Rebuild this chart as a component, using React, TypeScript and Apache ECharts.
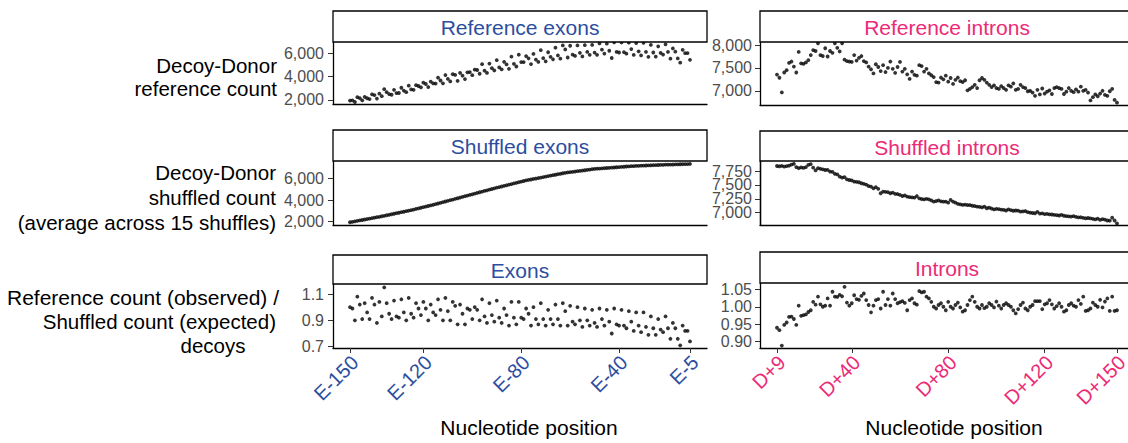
import React, { useEffect, useRef } from "react";
import * as echarts from "echarts";

const range = (a: number, b: number): number[] => {
  const r: number[] = [];
  for (let v = a; v <= b; v++) r.push(v);
  return r;
};

// Categories (positions present in the data)
const exonPositions: number[] = [...range(-150, -12), -5];
const intronPositions: number[] = range(9, 150);
const exonCategories = exonPositions.map((p) => `E${p}`);
const intronCategories = intronPositions.map((p) => `D+${p}`);
const exonTickLabels = ["E-150", "E-120", "E-80", "E-40", "E-5"];
const intronTickLabels = ["D+9", "D+40", "D+80", "D+120", "D+150"];

// Y tick values
const refExonTicks = [2000, 4000, 6000];
const shufExonTicks = [2000, 4000, 6000];
const ratioExonTicks = [0.7, 0.9, 1.1];
const refIntronTicks = [7000, 7500, 8000];
const shufIntronTicks = [7000, 7250, 7500, 7750];
const ratioIntronTicks = [0.9, 0.95, 1.0, 1.05];

// Series values
const refExons = [
  1950, 1970, 1830, 2240, 2160, 1970, 2270, 2150, 2080, 2490,
  2420, 2120, 2550, 2330, 2930, 2670, 2510, 2450, 2870, 2590,
  2600, 3050, 2810, 2670, 3230, 2910, 2870, 3270, 3200, 3090,
  3480, 3370, 3110, 3580, 3430, 3410, 3910, 3670, 3430, 4140,
  3810, 3590, 4210, 4150, 3630, 4320, 4080, 3790, 4370, 4390,
  4130, 4600, 4570, 4250, 5070, 4510, 4320, 5120, 4730, 4530,
  5410, 4790, 4630, 5270, 5050, 4670, 5710, 5100, 4870, 5880,
  5250, 5250, 5760, 5570, 5080, 5950, 5460, 5260, 6270, 5580,
  5310, 6090, 5700, 5490, 6480, 5820, 5540, 6680, 6330, 5640,
  6650, 5890, 5780, 6680, 6040, 5730, 6700, 6120, 5870, 6720,
  6060, 5870, 6850, 6310, 5980, 6830, 6220, 5600, 6950, 6120,
  6070, 6930, 6100, 5970, 6910, 6360, 5860, 6880, 6170, 5820,
  6900, 6120, 5700, 6720, 6070, 5720, 6600, 6030, 5890, 6770,
  6120, 5540, 6420, 6140, 5560, 5200, 6300, 6010, 6020, 5440,
];

const shufExons = [
  1950, 1990, 2030, 2078, 2118, 2158, 2204, 2246, 2284, 2330,
  2368, 2414, 2452, 2503, 2546, 2597, 2640, 2691, 2734, 2786,
  2828, 2879, 2922, 2973, 3016, 3067, 3119, 3179, 3231, 3291,
  3343, 3403, 3455, 3515, 3567, 3627, 3684, 3749, 3806, 3871,
  3928, 3993, 4050, 4115, 4172, 4237, 4294, 4359, 4416, 4481,
  4538, 4603, 4660, 4725, 4782, 4847, 4904, 4969, 5026, 5091,
  5148, 5208, 5260, 5320, 5372, 5432, 5484, 5544, 5596, 5656,
  5708, 5768, 5820, 5868, 5908, 5956, 5996, 6044, 6084, 6132,
  6172, 6220, 6260, 6308, 6348, 6396, 6436, 6484, 6524, 6558,
  6584, 6618, 6644, 6678, 6704, 6738, 6764, 6798, 6824, 6858,
  6884, 6905, 6918, 6939, 6952, 6973, 6986, 7007, 7020, 7041,
  7054, 7075, 7088, 7109, 7122, 7143, 7149, 7163, 7169, 7183,
  7189, 7203, 7209, 7223, 7229, 7243, 7249, 7263, 7266, 7277,
  7280, 7291, 7294, 7305, 7308, 7319, 7322, 7333, 7336, 7345,
];

const ratioExons = [
  1.00, 0.99, 0.90, 1.08, 1.02, 0.91, 1.03, 0.96, 0.91, 1.07,
  1.02, 0.88, 1.04, 0.93, 1.15, 1.03, 0.95, 0.91, 1.05, 0.93,
  0.92, 1.06, 0.96, 0.90, 1.07, 0.95, 0.92, 1.03, 0.99, 0.94,
  1.04, 0.99, 0.90, 1.02, 0.96, 0.94, 1.06, 0.98, 0.90, 1.07,
  0.97, 0.90, 1.04, 1.01, 0.87, 1.02, 0.95, 0.87, 0.99, 0.98,
  0.91, 1.00, 0.98, 0.90, 1.06, 0.93, 0.88, 1.03, 0.94, 0.89,
  1.05, 0.92, 0.88, 0.99, 0.94, 0.86, 1.04, 0.92, 0.87, 1.04,
  0.92, 0.91, 0.99, 0.95, 0.86, 1.00, 0.91, 0.87, 1.03, 0.91,
  0.86, 0.98, 0.91, 0.87, 1.02, 0.91, 0.86, 1.03, 0.97, 0.86,
  1.01, 0.89, 0.87, 1.00, 0.90, 0.85, 0.99, 0.90, 0.86, 0.98,
  0.88, 0.85, 0.99, 0.91, 0.86, 0.98, 0.89, 0.80, 0.99, 0.87,
  0.86, 0.98, 0.86, 0.84, 0.97, 0.89, 0.82, 0.96, 0.86, 0.81,
  0.96, 0.85, 0.79, 0.93, 0.84, 0.79, 0.91, 0.83, 0.81, 0.93,
  0.84, 0.76, 0.88, 0.84, 0.76, 0.71, 0.86, 0.82, 0.82, 0.74,
];

const refIntrons = [
  7355, 7285, 6965, 7400, 7450, 7610, 7640, 7530, 7400, 7850,
  7600, 7590, 7620, 7670, 7780, 7890, 7870, 8040, 7780, 7760,
  7930, 7750, 7870, 7830, 8040, 7940, 7860, 8040, 7680, 7650,
  7640, 7630, 7780, 7660, 7720, 7760, 7650, 7620, 7530, 7470,
  7380, 7580, 7520, 7430, 7560, 7410, 7500, 7640, 7480, 7390,
  7520, 7630, 7420, 7480, 7360, 7260, 7420, 7350, 7330, 7560,
  7540, 7420, 7480, 7380, 7340, 7300, 7190, 7180, 7290, 7250,
  7330, 7200, 7280, 7150, 7240, 7290, 7210, 7190, 7230, 7010,
  7040, 7080, 7130, 7060, 7230, 7280, 7240, 7180, 7130, 7080,
  7120, 7060, 7040, 7100, 7060, 7020, 7120, 7090, 7160, 7020,
  7040, 7130, 7080, 7060, 6990, 7000, 6960, 6890, 7020, 6920,
  7050, 6940, 6980, 7010, 6930, 7060, 7080, 7060, 7040, 6930,
  6980, 7060, 7000, 6970, 7030, 6980, 7090, 7000, 7020, 6960,
  6790, 6860, 6920, 6880, 6940, 7000, 6910, 6890, 6990, 7040,
  6800, 6740,
];

const shufIntrons = [
  7840, 7835, 7842, 7830, 7838, 7845, 7865, 7880, 7820, 7800,
  7815, 7805, 7820, 7860, 7875, 7810, 7760, 7800, 7790, 7780,
  7768, 7770, 7740, 7735, 7700, 7690, 7650, 7630, 7640, 7600,
  7588, 7580, 7560, 7555, 7548, 7530, 7520, 7505, 7480, 7470,
  7438, 7460, 7430, 7350, 7380, 7375, 7370, 7350, 7360, 7340,
  7336, 7320, 7300, 7310, 7290, 7280, 7275, 7270, 7300, 7258,
  7246, 7240, 7250, 7240, 7220, 7200, 7210, 7220, 7205, 7198,
  7198, 7180, 7230, 7200, 7180, 7160, 7150, 7140, 7145, 7138,
  7138, 7125, 7120, 7110, 7105, 7095, 7110, 7080, 7090, 7075,
  7060, 7070, 7065, 7055, 7050, 7040, 7060, 7045, 7035, 7040,
  7036, 7020, 7025, 7030, 7010, 7000, 6995, 6990, 7015, 6985,
  6988, 6975, 6980, 6970, 6968, 6960, 6955, 6950, 6960, 6945,
  6940, 6935, 6930, 6938, 6925, 6915, 6918, 6908, 6900, 6905,
  6898, 6890, 6880, 6895, 6870, 6885, 6875, 6860, 6856, 6910,
  6860, 6808,
];

const ratioIntrons = [
  0.940, 0.933, 0.889, 0.948, 0.955, 0.971, 0.972, 0.965, 0.948, 1.003,
  0.974, 0.976, 0.978, 0.985, 0.990, 1.014, 1.006, 1.029, 1.007, 1.000,
  1.003, 1.024, 1.003, 1.043, 1.029, 1.028, 1.034, 1.030, 1.057, 1.012,
  1.003, 1.010, 1.033, 1.022, 1.020, 1.031, 1.038, 1.019, 1.005, 0.984,
  1.003, 1.019, 1.022, 0.995, 1.043, 1.005, 1.022, 1.003, 1.038, 1.022,
  1.010, 1.013, 1.016, 1.011, 0.990, 1.019, 1.024, 1.010, 1.006, 1.045,
  1.041, 1.043, 1.029, 1.024, 1.014, 1.000, 0.995, 1.005, 1.010, 1.000,
  0.990, 1.014, 1.000, 0.995, 1.005, 1.012, 0.998, 0.986, 0.990, 1.005,
  1.019, 1.029, 1.014, 1.000, 0.995, 1.005, 0.996, 1.000, 1.010, 1.005,
  0.998, 1.015, 1.003, 0.995, 1.005, 1.010, 1.005, 1.000, 0.990, 0.981,
  0.993, 1.005, 1.012, 0.995, 0.990, 1.000, 1.005, 1.016, 1.016, 1.016,
  0.993, 1.007, 1.010, 1.019, 1.007, 0.995, 1.002, 1.010, 1.000, 0.986,
  0.990, 1.005, 1.010, 1.003, 1.000, 1.019, 1.008, 1.029, 0.988, 0.990,
  0.995, 1.012, 1.005, 1.000, 1.020, 0.998, 1.015, 1.024, 0.988, 1.029,
  0.988, 0.990,
];

const BLUE = "#2c4ea0";
const PINK = "#ec2a76";
const FONT = "'Liberation Sans', Arial, Helvetica, sans-serif";

const thousands = (v: number) => Math.round(v).toLocaleString("en-US");

export default function App() {
  const ref = useRef<HTMLDivElement>(null);

  useEffect(() => {
    if (!ref.current) return;
    const chart = echarts.init(ref.current, undefined, { renderer: "svg" });

    const exonTickIdx = exonTickLabels.map((l) => exonCategories.indexOf(l));
    const intronTickIdx = intronTickLabels.map((l) => intronCategories.indexOf(l));

    const L = { left: 333, width: 374 };
    const R = { left: 760, width: 374 };
    const grids = [
      { ...L, top: 42, height: 62 },
      { ...R, top: 42, height: 63 },
      { ...L, top: 161, height: 64 },
      { ...R, top: 161, height: 64 },
      { ...L, top: 284, height: 64 },
      { ...R, top: 283, height: 65 },
    ].map((g) => ({ ...g, containLabel: false, outerBoundsMode: "none" }));

    const axisLine = { show: true, onZero: false, lineStyle: { color: "#000", width: 1.3 } };

    const makeX = (gi: number, isExon: boolean, bottomRow: boolean) => ({
      type: "value",
      gridIndex: gi,
      min: isExon ? -6.95 : -7.05,
      max: isExon ? 145.95 : 148.05,
      axisLine,
      splitLine: { show: false },
      axisTick: bottomRow
        ? {
            show: true,
            length: 5,
            lineStyle: { color: "#333", width: 1 },
            customValues: isExon ? exonTickIdx : intronTickIdx,
          }
        : { show: false },
      axisLabel: bottomRow
        ? {
            show: true,
            rotate: 45,
            margin: 16,
            padding: [0, -7, 0, 0],
            fontSize: 20,
            fontFamily: FONT,
            color: isExon ? BLUE : PINK,
            hideOverlap: false,
            customValues: isExon ? exonTickIdx : intronTickIdx,
            formatter: (v: number) =>
              (isExon ? exonCategories : intronCategories)[Math.round(v)] ?? "",
          }
        : { show: false },
    });

    const makeY = (
      gi: number,
      min: number,
      max: number,
      ticks: number[],
      fmt: (v: number) => string,
      margin: number
    ) => ({
      type: "value",
      gridIndex: gi,
      position: "left",
      offset: 0,
      min,
      max,
      axisLine,
      splitLine: { show: false },
      axisTick: { show: true, length: 5, lineStyle: { color: "#333", width: 1 }, customValues: ticks },
      axisLabel: {
        show: true,
        margin,
        interval: 0,
        hideOverlap: false,
        showMinLabel: true,
        showMaxLabel: true,
        fontSize: 16,
        fontFamily: FONT,
        color: "#4d4d4d",
        customValues: ticks,
        formatter: fmt,
      },
    });

    // shuffled-intron ticks are tightly packed: spread them over two stacked left axes
    const shufIntronTicksA = shufIntronTicks.filter((_, i) => i % 2 === 0);
    const shufIntronTicksB = shufIntronTicks.filter((_, i) => i % 2 === 1);

    const seriesDefs = [refExons, refIntrons, shufExons, shufIntrons, ratioExons, ratioIntrons];
    const series = seriesDefs.map((arr, i) => ({
      type: "scatter",
      xAxisIndex: i,
      yAxisIndex: i,
      symbol: "circle",
      symbolSize: 3.8,
      itemStyle: { color: "#000" },
      silent: true,
      data: arr.map((v, k) => [k, v]),
    }));

    const strips = [
      { x: 333, y: 11, w: 374, h: 31, text: "Reference exons", color: BLUE },
      { x: 760, y: 11, w: 380, h: 31, text: "Reference introns", color: PINK },
      { x: 333, y: 130, w: 374, h: 31, text: "Shuffled exons", color: BLUE },
      { x: 760, y: 131, w: 380, h: 30, text: "Shuffled introns", color: PINK },
      { x: 333, y: 255, w: 374, h: 29, text: "Exons", color: BLUE },
      { x: 760, y: 252, w: 380, h: 31, text: "Introns", color: PINK },
    ];

    const stripGraphics: any[] = [];
    strips.forEach((s) => {
      stripGraphics.push({
        type: "rect",
        shape: { x: s.x, y: s.y, width: s.w, height: s.h },
        style: { fill: "#fff", stroke: "#000", lineWidth: 1.3 },
        z: 10,
      });
      const cx = s.x < 500 ? 333 + 374 / 2 : 760 + 374 / 2;
      stripGraphics.push({
        type: "text",
        x: cx,
        y: s.y + s.h / 2 + 1,
        z: 11,
        style: {
          text: s.text,
          fontSize: 21,
          fontFamily: FONT,
          fill: s.color,
          align: "center",
          verticalAlign: "middle",
        },
      });
    });

    const titleLine = (text: string, x: number, y: number, align = "right", size = 20.5) => ({
      type: "text",
      x,
      y,
      z: 11,
      style: { text, fontSize: size, fontFamily: FONT, fill: "#000", align, verticalAlign: "middle" },
    });

    const titles = [
      titleLine("Decoy-Donor", 277, 65.5),
      titleLine("reference count", 277, 88.5),
      titleLine("Decoy-Donor", 276, 172.5),
      titleLine("shuffled count", 276, 197),
      titleLine("(average across 15 shuffles)", 276, 222),
      titleLine("Reference count (observed) /", 279, 297.5, "right", 21),
      titleLine("Shuffled count (expected)", 276, 321),
      titleLine("decoys", 213, 345, "center"),
      titleLine("Nucleotide position", 529, 427, "center", 21),
      titleLine("Nucleotide position", 954, 427, "center", 21),
    ];

    chart.setOption({
      animation: false,
      backgroundColor: "#fff",
      grid: grids,
      xAxis: [
        makeX(0, true, false),
        makeX(1, false, false),
        makeX(2, true, false),
        makeX(3, false, false),
        makeX(4, true, true),
        makeX(5, false, true),
      ],
      yAxis: [
        makeY(0, 1657, 6970, refExonTicks, thousands, 9),
        makeY(1, 6689, 8067, refIntronTicks, thousands, 8),
        makeY(2, 1694, 7620, shufExonTicks, thousands, 9),
        makeY(3, 6779, 7930, shufIntronTicksA, thousands, 8),
        makeY(4, 0.69, 1.176, ratioExonTicks, (v: number) => v.toFixed(1), 9),
        makeY(5, 0.882, 1.068, ratioIntronTicks, (v: number) => v.toFixed(2), 8),
        makeY(3, 6779, 7930, shufIntronTicksB, thousands, 8),
      ],
      series,
      graphic: [...stripGraphics, ...titles],
    } as any);

    return () => chart.dispose();
  }, []);

  return (
    <div
      ref={ref}
      style={{ position: "fixed", left: 0, top: 0, width: 1128, height: 443, background: "#fff" }}
    />
  );
}
